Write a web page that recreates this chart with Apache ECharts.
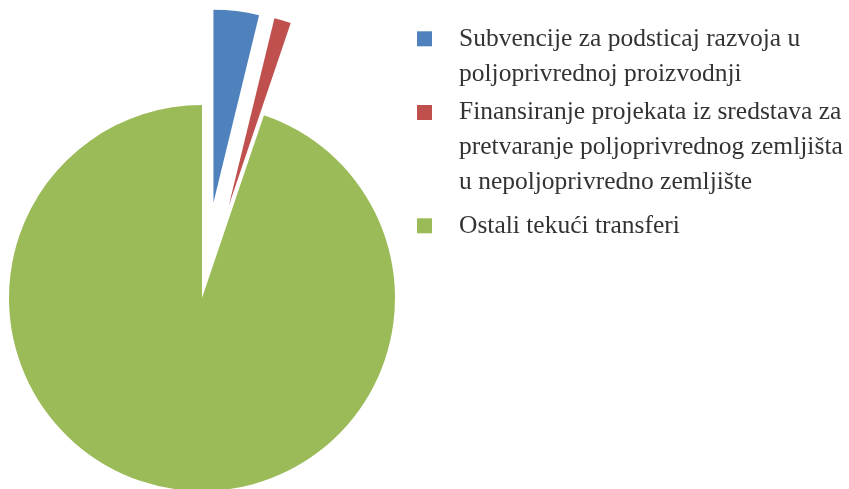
<!DOCTYPE html>
<html>
<head>
<meta charset="utf-8">
<script src="https://cdn.jsdelivr.net/npm/echarts@6/dist/echarts.min.js"></script>
<style>
  html, body { margin: 0; padding: 0; background: #fff; }
  #chart { width: 849px; height: 489px; }
</style>
</head>
<body>
<div id="chart"></div>
<script>
// kategorije i vrijednosti (%)
var categories = [
  'Subvencije za podsticaj razvoja u poljoprivrednoj proizvodnji',
  'Finansiranje projekata iz sredstava za pretvaranje poljoprivrednog zemljišta u nepoljoprivredno zemljište',
  'Ostali tekući transferi'
];
var legendLines = [
  ['Subvencije za podsticaj razvoja u', 'poljoprivrednoj proizvodnji'],
  ['Finansiranje projekata iz sredstava za', 'pretvaranje poljoprivrednog zemljišta', 'u nepoljoprivredno zemljište'],
  ['Ostali tekući transferi']
];
var values = [3.8, 1.4, 94.8];
var colors = ['#4F81BD', '#C0504D', '#9BBB59'];
var exploded = [true, true, false];

var chart = echarts.init(document.getElementById('chart'));

var lineH = 35;
var iconCenters = [38.8, 112.5, 225.8];

// jedna legenda po stavci, kvadratic uz prvi red teksta
// (prazni redovi iznad teksta da bi prvi red bio u sredini)
var legends = categories.map(function (name, i) {
  var n = legendLines[i].length;
  var pad = [];
  for (var k = 0; k < n - 1; k++) pad.push('');
  return {
    data: [name],
    orient: 'vertical',
    left: 417,
    top: iconCenters[i] - (2 * n - 1) * lineH / 2,
    padding: 0,
    itemWidth: 15,
    itemHeight: 15,
    selectedMode: false,
    icon: 'rect',
    formatter: function () {
      return pad.concat(legendLines[i]).join('\n');
    },
    textStyle: {
      fontFamily: 'Liberation Serif',
      fontSize: 25.5,
      color: '#333',
      lineHeight: lineH,
      padding: [0, 0, 0, 22]
    }
  };
});

var option = {
  animation: false,
  color: colors,
  legend: legends,
  series: [{
    type: 'pie',
    center: [202, 298],
    radius: 193,
    startAngle: 90,
    clockwise: true,
    selectedMode: 'multiple',
    selectedOffset: 96,
    label: { show: false },
    labelLine: { show: false },
    emphasis: { disabled: true },
    itemStyle: { borderWidth: 0 },
    data: categories.map(function (name, i) {
      return { name: name, value: values[i], selected: exploded[i] };
    })
  }]
};

chart.setOption(option);
</script>
</body>
</html>
